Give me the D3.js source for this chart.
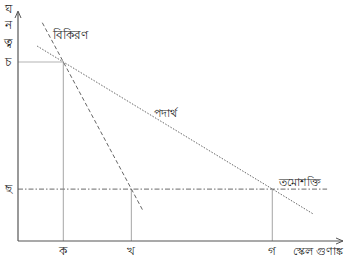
<!DOCTYPE html>
<html>
<head>
<meta charset="utf-8">
<script src="https://cdn.jsdelivr.net/npm/d3@7"></script>
<style>
  html, body { margin: 0; padding: 0; background: #fff; }
  text { font-family: "Noto Sans", "DejaVu Sans", sans-serif; fill: #222; }
</style>
</head>
<body>
<div id="chart"></div>
<script>
// tick positions on the axes
const xTicks = [
  { name: "ক", value: 1.4 },
  { name: "খ", value: 3.5 },
  { name: "গ", value: 7.85 }
];
const yTicks = [
  { name: "চ", value: 7.75 },
  { name: "ছ", value: 2.25 }
];
// the three lines (x, y pairs)
const radiation = [[0.75, 9.45], [1.4, 7.75], [3.5, 2.25], [3.85, 1.33]];
const matter = [[0.59, 8.44], [1.4, 7.75], [7.85, 2.25], [9.1, 1.18]];
const darkEnergy = [[0, 2.25], [7.85, 2.25], [9.54, 2.25]];
const yTitle = ["ঘ", "ন", "ত্ব"];
const xTitle = "স্কেল গুণাঙ্ক";

var width = 350, height = 261;
var margin = {top: 10, right: 8, bottom: 20, left: 18};

const svg = d3.select("#chart")
  .append("svg")
    .attr("width", width)
    .attr("height", height);

var x = d3.scaleLinear()
  .domain([0, 10])
  .range([margin.left, width - margin.right]);
var y = d3.scaleLinear()
  .domain([0, 10])
  .range([height - margin.bottom, margin.top]);

var line = d3.line()
  .x(function(d) { return x(d[0]); })
  .y(function(d) { return y(d[1]); });

// guide lines down to the x axis
svg.selectAll("line.vguide")
  .data(xTicks)
  .enter()
  .append("line")
    .attr("x1", d => x(d.value))
    .attr("x2", d => x(d.value))
    .attr("y1", (d, i) => i == 0 ? y(yTicks[0].value) : y(yTicks[1].value))
    .attr("y2", y(0))
    .attr("stroke", "#b4b4b4")
    .attr("stroke-width", 1.2);

// horizontal guide at চ
svg.append("line")
  .attr("x1", x(0))
  .attr("x2", x(xTicks[0].value))
  .attr("y1", y(yTicks[0].value))
  .attr("y2", y(yTicks[0].value))
  .attr("stroke", "#b4b4b4")
  .attr("stroke-width", 1.2);

// তমোশক্তি
svg.append("path")
  .datum(darkEnergy)
  .attr("d", line)
  .attr("fill", "none")
  .attr("stroke", "#888")
  .attr("stroke-width", 1.3)
  .attr("stroke-dasharray", "5,2,1.5,2");

// বিকিরণ
svg.append("path")
  .datum(radiation)
  .attr("d", line)
  .attr("fill", "none")
  .attr("stroke", "#666")
  .attr("stroke-width", 1)
  .attr("stroke-dasharray", "4,2.5");

// পদার্থ
svg.append("path")
  .datum(matter)
  .attr("d", line)
  .attr("fill", "none")
  .attr("stroke", "#666")
  .attr("stroke-width", 1)
  .attr("stroke-dasharray", "1.5,1.5");

// axes with arrow heads
svg.append("line")
  .attr("x1", x(0)).attr("y1", y(0))
  .attr("x2", x(0)).attr("y2", 12)
  .attr("stroke", "#555").attr("stroke-width", 1.2);
svg.append("path")
  .attr("d", `M${x(0) - 3},${18} L${x(0)},${11} L${x(0) + 3},${18}`)
  .attr("fill", "none").attr("stroke", "#555").attr("stroke-width", 1);
svg.append("line")
  .attr("x1", x(0)).attr("y1", y(0))
  .attr("x2", 343).attr("y2", y(0))
  .attr("stroke", "#555").attr("stroke-width", 1.2);
svg.append("path")
  .attr("d", `M${336},${y(0) - 3} L${343},${y(0)} L${336},${y(0) + 3}`)
  .attr("fill", "none").attr("stroke", "#555").attr("stroke-width", 1);

// tick labels
svg.selectAll("text.xtick")
  .data(xTicks)
  .enter()
  .append("text")
    .attr("x", d => x(d.value))
    .attr("y", y(0) + 14)
    .style("text-anchor", "middle")
    .style("font-size", "12px")
    .text(d => d.name);
svg.selectAll("text.ytick")
  .data(yTicks)
  .enter()
  .append("text")
    .attr("x", 8)
    .attr("y", d => y(d.value) + 4)
    .style("text-anchor", "middle")
    .style("font-size", "12px")
    .text(d => d.name);

// y axis title, one letter per row
svg.selectAll("text.ytitle")
  .data(yTitle)
  .enter()
  .append("text")
    .attr("x", 8)
    .attr("y", (d, i) => [13, 29, 47][i])
    .style("text-anchor", "middle")
    .style("font-size", "12px")
    .text(d => d);

svg.append("text")
  .attr("x", 318)
  .attr("y", y(0) + 14)
  .style("text-anchor", "middle")
  .style("font-size", "11px")
  .text(xTitle);

// line labels
svg.append("text")
  .attr("x", 70).attr("y", 39)
  .style("text-anchor", "middle")
  .style("font-size", "12px")
  .text("বিকিরণ");
svg.append("text")
  .attr("x", 165).attr("y", 117)
  .style("text-anchor", "middle")
  .style("font-size", "11px")
  .text("পদার্থ");
svg.append("text")
  .attr("x", 300).attr("y", 186)
  .style("text-anchor", "middle")
  .style("font-size", "11px")
  .text("তমোশক্তি");
</script>
</body>
</html>
